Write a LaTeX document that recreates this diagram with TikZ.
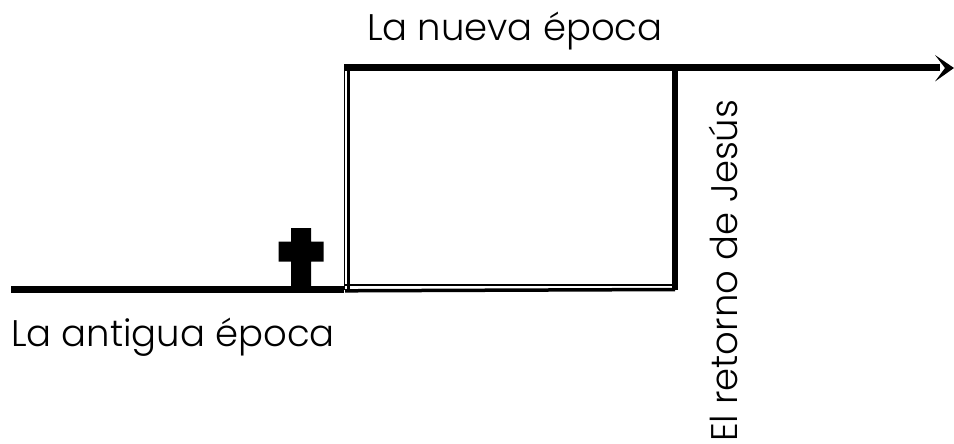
\documentclass[tikz,border=0pt]{standalone}
\usepackage{fontspec}
\setmainfont{Poppins Light}
\tikzset{
  thickline/.style={line width=7pt,black},
  thinline/.style={line width=1.6pt,black},
  lbl/.style={font=\fontsize{37}{40}\selectfont,inner sep=0pt,anchor=base west,text=black},
}
\begin{document}
\begin{tikzpicture}[x=1pt,y=-1pt]
\useasboundingbox (0,0) rectangle (954,444);
\coordinate (start) at (11,289.5);
\coordinate (bl) at (344,289.5);
\coordinate (br) at (675,289.5);
\coordinate (tl) at (344,68);
\coordinate (tr) at (675,68);
\coordinate (end) at (940,68);
% arrow shaft and head
\draw[thickline] (tl) -- (end);
\fill[black] (954,68) -- (935,55) -- (945,68) -- (935,81.5) -- cycle;
% baseline
\draw[thickline] (start) -- (bl);
% box
\draw[line width=6pt] (tr) -- (br);
\draw[line width=3.5pt] (345,290.8) -- (br);
\draw[thinline] (344,285) -- (675,285);
\draw[line width=1.8pt] (tl) ++(0.5,0) -- (344.5,289.5);
\draw[line width=3pt] (348.5,68) -- (348.5,289);
% cross
\fill[black] (291,228) -- (311,228) -- (311,241.5) -- (323.5,241.5) -- (323.5,261.5) -- (311,261.5) -- (311,287) -- (291,287) -- (291,261.5) -- (278.5,261.5) -- (278.5,241.5) -- (291,241.5) -- cycle;
% labels
\node[lbl] (nueva) at (367,41) {La nueva época};
\node[lbl] (antigua) at (11,346) {La antigua época};
\node[lbl,rotate=90] (retorno) at (737,442) {El retorno de Jesús};
\end{tikzpicture}
\end{document}
